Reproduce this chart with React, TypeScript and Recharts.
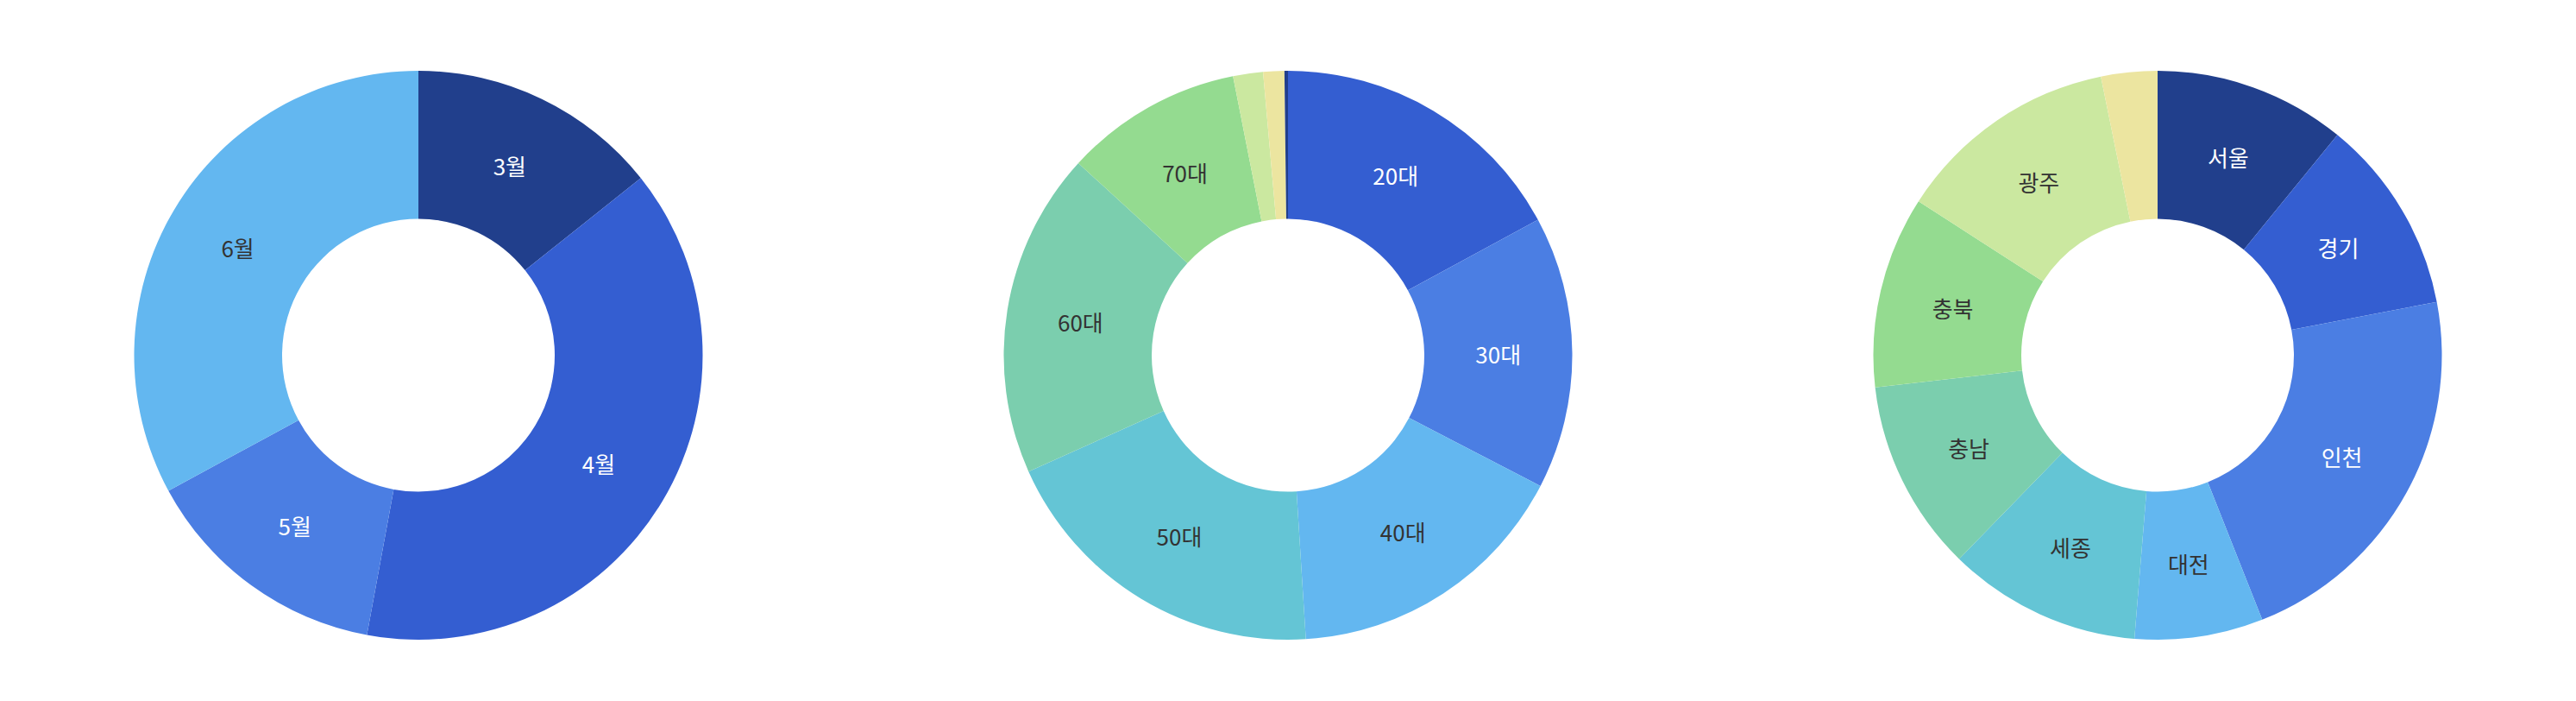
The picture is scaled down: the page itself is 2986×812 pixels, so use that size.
import React from 'react';
import { PieChart, Pie, Cell } from 'recharts';

const PALETTE = ['#213f8c', '#345ed1', '#4b7ee3', '#63b7f0', '#64c5d5', '#7bceae', '#94db90', '#cbe8a0', '#ece5a0'];
// first three colours are dark enough for white text
const LIGHT_TEXT_COUNT = 3;

const MONTHS = ['3월', '4월', '5월', '6월'];
const MONTH_VALUES = [14.3, 38.6, 14.2, 32.9];

const AGES = ['20대', '30대', '40대', '50대', '60대', '70대', '80대', '90대', '기타'];
const AGE_VALUES = [17.1, 15.5, 16.4, 19.3, 18.5, 10.1, 1.7, 1.2, 0.2];

const REGIONS = ['서울', '경기', '인천', '대전', '세종', '충남', '충북', '광주', '기타'];
const REGION_VALUES = [10.9, 11.1, 22.0, 7.3, 11.0, 10.9, 10.9, 12.7, 3.2];

const toData = (names: string[], values: number[]) => names.map((name, i) => ({ name, value: values[i] }));

const monthData = toData(MONTHS, MONTH_VALUES);
const ageData = toData(AGES, AGE_VALUES);
const regionData = toData(REGIONS, REGION_VALUES);

// age chart starts one step into the palette
const monthColors = MONTHS.map((_, i) => i % PALETTE.length);
const ageColors = AGES.map((_, i) => (i + 1) % PALETTE.length);
const regionColors = REGIONS.map((_, i) => i % PALETTE.length);

const RADIAN = Math.PI / 180;

const makeLabel = (colorIdx: number[]) => (props: any) => {
  const { cx, cy, midAngle, innerRadius, outerRadius, percent, index, name } = props;
  if (percent < 0.05) return null;
  const r = innerRadius + (outerRadius - innerRadius) * 0.5;
  const x = cx + r * Math.cos(-midAngle * RADIAN);
  const y = cy + r * Math.sin(-midAngle * RADIAN);
  const light = colorIdx[index] < LIGHT_TEXT_COUNT;
  return (
    <text
      x={x}
      y={y}
      fill={light ? '#ffffff' : '#333333'}
      textAnchor="middle"
      dominantBaseline="central"
      fontSize={26}
      fontFamily="'Noto Sans CJK KR', 'Noto Sans', sans-serif"
    >
      {name}
    </text>
  );
};

const pies = [
  { key: 'month', data: monthData, colors: monthColors, cx: 477 },
  { key: 'age', data: ageData, colors: ageColors, cx: 1485 },
  { key: 'region', data: regionData, colors: regionColors, cx: 2493 },
];

export default function App() {
  return (
    <div style={{ width: 2970, height: 796 }}>
      <PieChart width={2970} height={796} margin={{ top: 0, right: 0, bottom: 0, left: 0 }}>
        {pies.map((p) => (
          <Pie
            key={p.key}
            data={p.data}
            dataKey="value"
            nameKey="name"
            cx={p.cx}
            cy={403.5}
            innerRadius={158}
            outerRadius={329.5}
            startAngle={90}
            endAngle={-270}
            stroke="none"
            labelLine={false}
            label={makeLabel(p.colors)}
            isAnimationActive={false}
          >
            {p.data.map((d, i) => (
              <Cell key={d.name} fill={PALETTE[p.colors[i]]} />
            ))}
          </Pie>
        ))}
      </PieChart>
    </div>
  );
}
